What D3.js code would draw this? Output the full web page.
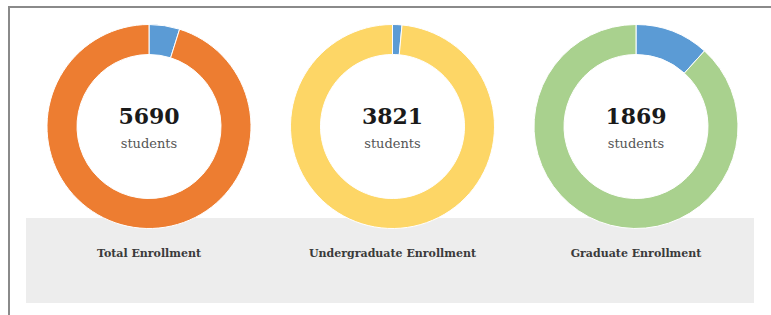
<!DOCTYPE html>
<html><head><meta charset="utf-8">
<script src="https://cdn.jsdelivr.net/npm/d3@7"></script>
<style>html,body{margin:0;padding:0;background:#fff;}svg{display:block;}</style>
</head><body>
<svg id="chart" width="771" height="315"></svg>
<script>
// Data
const categories = ["Total Enrollment", "Undergraduate Enrollment", "Graduate Enrollment"];
const totals = [5690, 3821, 1869];
const highlighted = [276, 57, 219];   // blue segment
const unitLabel = "students";
const mainColors = ["#ED7D31", "#FDD666", "#A9D18E"];
const accentColor = "#5B9BD5";

const svg = d3.select("#chart");
const W = 771, H = 315;

// frame
svg.append("rect").attr("x", 26).attr("y", 218).attr("width", 728).attr("height", 85).attr("fill", "#ededed");
svg.append("line").attr("x1", 8).attr("x2", 771).attr("y1", 7).attr("y2", 7).attr("stroke", "#8a8a8a").attr("stroke-width", 2);
svg.append("line").attr("x1", 9).attr("x2", 9).attr("y1", 6).attr("y2", 315).attr("stroke", "#8a8a8a").attr("stroke-width", 2);

const x = d3.scalePoint().domain(categories).range([149, 636]);
const cy = 126.5, rOuter = 102, rInner = 72;
const pie = d3.pie().sort(null).value(d => d.v);
const arc = d3.arc().innerRadius(rInner).outerRadius(rOuter);

categories.forEach((c, i) => {
  const g = svg.append("g").attr("transform", `translate(${x(c)},${cy})`);
  const data = [{v: highlighted[i], col: accentColor}, {v: totals[i] - highlighted[i], col: mainColors[i]}];
  g.selectAll("path").data(pie(data)).join("path")
    .attr("d", arc).attr("fill", d => d.data.col)
    .attr("stroke", "#fff").attr("stroke-width", 1);
  g.append("text").attr("text-anchor", "middle").attr("y", -2.5)
    .attr("font-family", "DejaVu Serif").attr("font-weight", "bold").attr("font-size", 22)
    .attr("fill", "#1a1a1a").text(totals[i]);
  g.append("text").attr("text-anchor", "middle").attr("y", 21)
    .attr("font-family", "DejaVu Serif").attr("font-size", 13)
    .attr("fill", "#555").text(unitLabel);
  svg.append("text").attr("x", x(c)).attr("y", 257).attr("text-anchor", "middle")
    .attr("font-family", "DejaVu Serif").attr("font-weight", "bold").attr("font-size", 11)
    .attr("fill", "#3a3a3a").text(c);
});
</script>
</body></html>
